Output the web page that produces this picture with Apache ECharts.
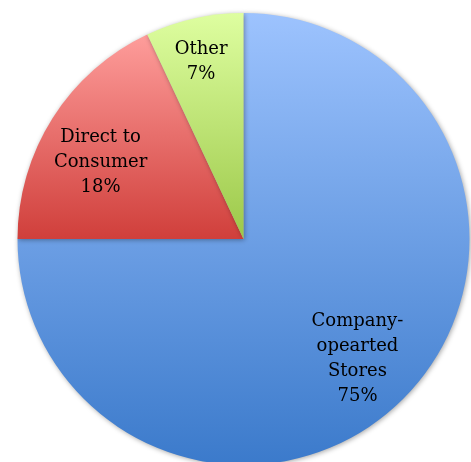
<!DOCTYPE html>
<html><head><meta charset="utf-8">
<script src="https://cdn.jsdelivr.net/npm/echarts@6/dist/echarts.min.js"></script>
<style>html,body{margin:0;padding:0;background:#fff}#c{width:471px;height:462px}</style>
</head><body><div id="c"></div>
<script>
const categories = ["Company-\nopearted\nStores", "Direct to\nConsumer", "Other"];
const values = [75, 18, 7];
const topColors = ["#9dc3fe", "#fe9d9b", "#defea0"];
const bottomColors = ["#3b7acb", "#d03f3b", "#9cc849"];

const chart = echarts.init(document.getElementById('c'));
const center = [243.5, 239];
const R = 226;
const baseData = categories.map((n, i) => ({
  name: n, value: values[i],
  itemStyle: { color: new echarts.graphic.LinearGradient(0, 0, 0, 1, [
    { offset: 0, color: topColors[i] }, { offset: 1, color: bottomColors[i] }]) }
}));
const labelData = categories.map((n, i) => ({ name: n, value: values[i] }));
chart.setOption({
  animation: false,
  series: [{
    type: 'pie', center: center, radius: [0, R], startAngle: 90, clockwise: true,
    silent: true, label: { show: false }, labelLine: { show: false },
    itemStyle: { shadowBlur: 5, shadowColor: 'rgba(0,0,0,0.35)', shadowOffsetX: 1, shadowOffsetY: 1 },
    data: baseData
  }, {
    type: 'pie', center: center, radius: [R * 0.45, R], startAngle: 90, clockwise: true,
    silent: true, itemStyle: { color: 'rgba(0,0,0,0)' },
    label: {
      show: true, position: 'inside', formatter: '{b}\n{d}%',
      fontFamily: 'DejaVu Serif', fontSize: 18, lineHeight: 25, color: '#000', align: 'center'
    },
    labelLine: { show: false },
    labelLayout: function (p) {
      if (p.dataIndex === 2) return { dy: -14, dx: -6 };
      if (p.dataIndex === 1) return { dx: -2, dy: 13 };
      return { dx: -4, dy: 2 };
    },
    data: labelData
  }]
});
</script></body></html>
